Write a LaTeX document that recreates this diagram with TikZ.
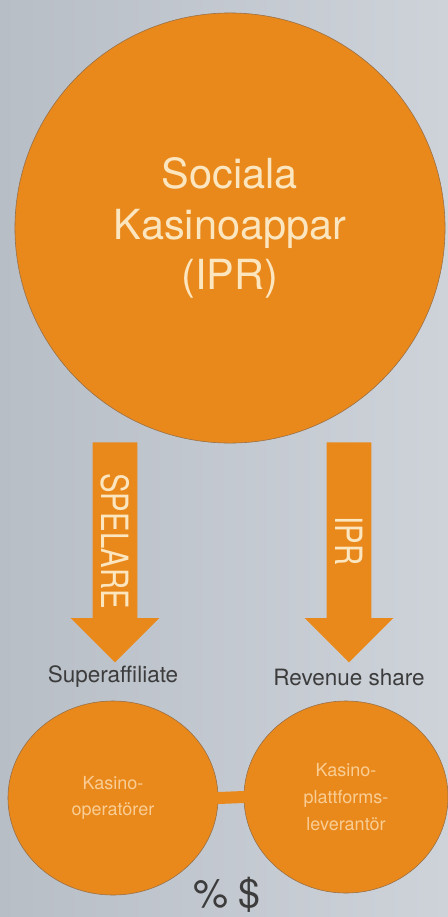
\documentclass[tikz,border=0pt]{standalone}
\usepackage{fontspec}
\setmainfont{TeX Gyre Heros}
\usetikzlibrary{shapes,arrows,positioning}
\definecolor{orng}{RGB}{233,137,28}
\definecolor{rim}{RGB}{150,110,70}
\definecolor{cream}{RGB}{252,230,192}
\definecolor{pale}{RGB}{249,205,148}
\definecolor{dark}{RGB}{60,60,60}
\definecolor{bgL}{RGB}{184,190,198}
\definecolor{bgR}{RGB}{206,211,218}

\begin{document}
\begin{tikzpicture}[x=0.025cm,y=0.025cm]
	\shade[left color=bgL,right color=bgR] (0,0) rectangle (448,-917);
	\useasboundingbox (0,0) rectangle (448,-917);

	\node[circle,fill=orng,draw=rim,line width=0.4pt,minimum size=10.75cm,text=cream,align=center,font=\fontsize{29.5}{36}\selectfont](C0) at (230,-228){Sociala\\Kasinoappar\\(IPR)};

	\foreach \t [count=\n] in {SPELARE,IPR}
		\node[single arrow,fill=orng,rotate=-90,anchor=tail,minimum height=5.5cm,single arrow head extend=0.55cm,single arrow tip angle=90,inner sep=0pt,text height=25.2pt,text depth=6.1pt,text=cream,font=\fontsize{26.7}{30}\selectfont](A\n) at ({-119+234*\n},-442){\scalebox{0.78}[1]{\t}};

	\node[font=\fontsize{16}{19}\selectfont,text=dark](L1) at (113,-677){Superaffiliate};
	\node[font=\fontsize{16}{19}\selectfont,text=dark](L2) at (349,-677){Revenue share};

	\node[ellipse,fill=orng,draw=rim,line width=0.4pt,minimum width=5.25cm,minimum height=4.85cm,text=pale,align=center,font=\fontsize{12.8}{19}\selectfont](C1) at (113,-798){Kasino-\\operatörer};
	\node[ellipse,fill=orng,draw=rim,line width=0.4pt,minimum width=5.1cm,minimum height=4.8cm,text=pale,align=center,font=\fontsize{12.8}{19}\selectfont](C2) at (346,-797){Kasino-\\plattforms-\\leverantör};

	\draw[orng,line width=0.3cm,shorten <=-0.1cm,shorten >=-0.1cm] (C1.east) -- (C2.west);

	\node[font=\fontsize{28}{30}\selectfont,text=dark](P) at (227,-895){\% \$};
\end{tikzpicture}
\end{document}
